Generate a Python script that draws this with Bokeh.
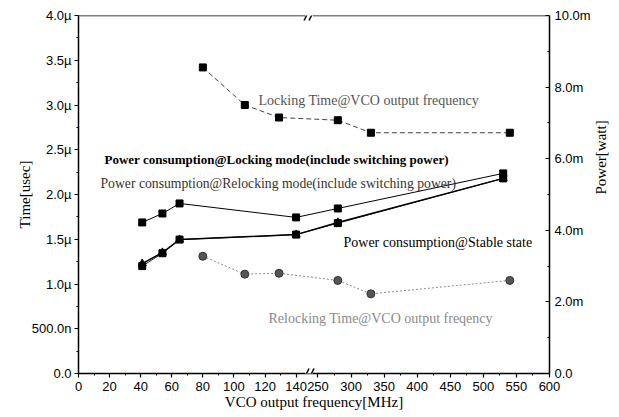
import math
import numpy as np
from bokeh.plotting import figure
from bokeh.models import (Range1d, LinearAxis, FixedTicker, CustomJSTickFormatter,
                          Label, Arrow)
from bokeh.embed import file_html
from bokeh.resources import INLINE

# ---------------- data ----------------
lock_freq = [80, 107, 129, 280, 330, 540]            # MHz
lock_time = [3.42, 3.00, 2.86, 2.83, 2.69, 2.69]      # usec
relock_freq = [80, 107, 129, 280, 330, 540]
relock_time = [1.31, 1.11, 1.12, 1.04, 0.89, 1.04]    # usec
pwr_freq = [41, 54, 65, 140, 280, 530]                # MHz
pwr_locking = [4.22, 4.47, 4.75, 4.36, 4.61, 5.59]    # mW
pwr_relocking = [3.00, 3.36, 3.74, 3.88, 4.20, 5.45]  # mW
pwr_stable = [3.07, 3.38, 3.74, 3.88, 4.22, 5.45]     # mW

x_major_low = [0, 20, 40, 60, 80, 100, 120, 140]
x_minor_low = [10, 30, 50, 70, 90, 110, 130]
x_major_high = [250, 300, 350, 400, 450, 500, 550, 600]
x_minor_high = [275, 325, 375, 425, 475, 525, 575]
time_ticks = [0, 0.5, 1.0, 1.5, 2.0, 2.5, 3.0, 3.5, 4.0]
time_minor = [0.25, 0.75, 1.25, 1.75, 2.25, 2.75, 3.25, 3.75]
power_ticks = [0, 2, 4, 6, 8, 10]
power_minor = [1, 3, 5, 7, 9]

# ---------------- broken x axis ----------------
LOW_MAX, HIGH_MIN, HIGH_MAX = 140, 250, 600
LOW_W, GAP_W, HIGH_W = 219.0, 22.0, 233.0   # widths of the segments on screen
TOTAL_W = LOW_W + GAP_W + HIGH_W


def fx(f):
    f = np.asarray(f, dtype=float)
    return np.where(f <= LOW_MAX, f * LOW_W / LOW_MAX,
                    LOW_W + GAP_W + (f - HIGH_MIN) * HIGH_W / (HIGH_MAX - HIGH_MIN)).tolist()


FRAME_H = 358.0
p = figure(width=619, height=417, x_range=Range1d(0, TOTAL_W), y_range=Range1d(0, 4),
           output_backend="svg", toolbar_location=None,
           min_border_left=78, min_border_right=67, min_border_top=15, min_border_bottom=44)
p.extra_y_ranges = {"power": Range1d(0, 10)}
p.grid.visible = False
p.outline_line_color = None
p.background_fill_color = "white"
p.border_fill_color = "white"

TICK_FONT = "Liberation Sans"
SERIF = "Liberation Serif"

# x axis
xa = p.xaxis[0]
xa.ticker = FixedTicker(ticks=fx(x_major_low + x_major_high), minor_ticks=fx(x_minor_low + x_minor_high))
xa.formatter = CustomJSTickFormatter(
    args=dict(lw=LOW_W, gw=GAP_W, hw=HIGH_W, lmax=LOW_MAX, hmin=HIGH_MIN, hmax=HIGH_MAX),
    code="""
    if (tick <= lw + 0.001) return Math.round(tick * lmax / lw).toString();
    return Math.round(hmin + (tick - lw - gw) * (hmax - hmin) / hw).toString();
""")
xa.axis_label = "VCO output frequency[MHz]"

# left y axis
ya = p.yaxis[0]
ya.ticker = FixedTicker(ticks=time_ticks, minor_ticks=time_minor)
ya.formatter = CustomJSTickFormatter(code="""
    if (Math.abs(tick) < 1e-9) return "0.0";
    if (tick < 1) return (tick * 1000).toFixed(1) + "n";
    return tick.toFixed(1) + "\u00b5";
""")
ya.axis_label = "Time[usec]"

# right y axis
ra = LinearAxis(y_range_name="power", axis_label="Power[watt]")
ra.ticker = FixedTicker(ticks=power_ticks, minor_ticks=power_minor)
ra.formatter = CustomJSTickFormatter(code="""
    if (Math.abs(tick) < 1e-9) return "0.0";
    return tick.toFixed(1) + "m";
""")
p.add_layout(ra, "right")

for ax in (xa, ya, ra):
    ax.major_label_text_font = TICK_FONT
    ax.major_label_text_font_size = "13px"
    ax.major_label_text_color = "black"
    ax.axis_label_text_font = SERIF
    ax.axis_label_text_font_size = "15px"
    ax.axis_label_text_font_style = "normal"
    ax.axis_label_text_color = "black"
    ax.axis_line_color = "black"
    ax.axis_line_width = 1.5
    ax.major_tick_line_color = "black"
    ax.minor_tick_line_color = "black"
    ax.major_tick_line_width = 1.2
    ax.minor_tick_line_width = 1.0

xa.major_tick_in = 0
xa.major_tick_out = 4
xa.minor_tick_in = 0
xa.minor_tick_out = 2
xa.major_label_standoff = 4
xa.axis_label_standoff = 0

ya.major_tick_in = 0
ya.major_tick_out = 4
ya.minor_tick_in = 0
ya.minor_tick_out = 2
ya.major_label_standoff = 3
ya.axis_label_standoff = -4

ra.major_tick_in = 4
ra.major_tick_out = 0
ra.minor_tick_in = 2
ra.minor_tick_out = 0
ra.major_label_standoff = 5
ra.axis_label_standoff = 7
ra.axis_label_orientation = math.pi / 2

# ---------------- series ----------------
p.line(fx(lock_freq), lock_time, line_color="#444444", line_width=1, line_dash="5 3")
p.scatter(fx(lock_freq), lock_time, marker="square", size=7, fill_color="black", line_color="black")

p.line(fx(relock_freq), relock_time, line_color="#8a8a8a", line_width=1, line_dash="2 2")
p.scatter(fx(relock_freq), relock_time, marker="circle", size=8, fill_color="#555555", line_color="#333333")

p.line(fx(pwr_freq), pwr_locking, y_range_name="power", line_color="black", line_width=1)
p.scatter(fx(pwr_freq), pwr_locking, y_range_name="power", marker="square", size=7,
          fill_color="black", line_color="black")

p.line(fx(pwr_freq), pwr_relocking, y_range_name="power", line_color="#222222", line_width=1)
p.scatter(fx(pwr_freq), pwr_relocking, y_range_name="power", marker="square", size=7,
          fill_color="black", line_color="black")

p.line(fx(pwr_freq), pwr_stable, y_range_name="power", line_color="black", line_width=1.5)
p.scatter(fx(pwr_freq), pwr_stable, y_range_name="power", marker="triangle", size=8,
          fill_color="black", line_color="black")

# ---------------- frame top line and break marks ----------------
brk = (fx([LOW_MAX])[0] + fx([HIGH_MIN])[0]) / 2 + 2
px_y = 4.0 / FRAME_H      # one screen pixel in time units
half_gap = 4
p.add_layout(Arrow(end=None, x_start=0, y_start=4, x_end=brk - half_gap, y_end=4,
                   line_color="black", line_width=1.5))
p.add_layout(Arrow(end=None, x_start=brk + half_gap, y_start=4, x_end=TOTAL_W, y_end=4,
                   line_color="black", line_width=1.5))
# white gap on bottom axis
p.add_layout(Arrow(end=None, x_start=brk - half_gap, y_start=0, x_end=brk + half_gap, y_end=0,
                   line_color="white", line_width=4))
for yb in (0, 4):
    for dx in (-2.5, 2.5):
        p.add_layout(Arrow(end=None, x_start=brk + dx - 2.5, y_start=yb - 5 * px_y,
                           x_end=brk + dx + 2.5, y_end=yb + 5 * px_y,
                           line_color="black", line_width=1.5))

# ---------------- text annotations ----------------
def add_text(xs, ys, txt, color, style="normal", size="14px"):
    # xs, ys: screen pixels from the frame's bottom-left corner
    p.add_layout(Label(x=xs, y=ys, x_units="screen", y_units="screen", text=txt,
                       text_font=SERIF, text_font_size=size, text_font_style=style,
                       text_color=color, text_baseline="middle", text_align="left"))


add_text(180, 373 - 100, "Locking Time@VCO output frequency", "#555555")
add_text(26, 373 - 159, "Power consumption@Locking mode(include switching power)", "black", "bold", "13px")
add_text(22, 373 - 183, "Power consumption@Relocking mode(include switching power)", "#333333", size="13.7px")
add_text(265, 373 - 242, "Power consumption@Stable state", "black")
add_text(190, 373 - 318, "Relocking Time@VCO output freqency", "#8a8a8a")

open("out.html", "w").write(file_html(p, INLINE))
